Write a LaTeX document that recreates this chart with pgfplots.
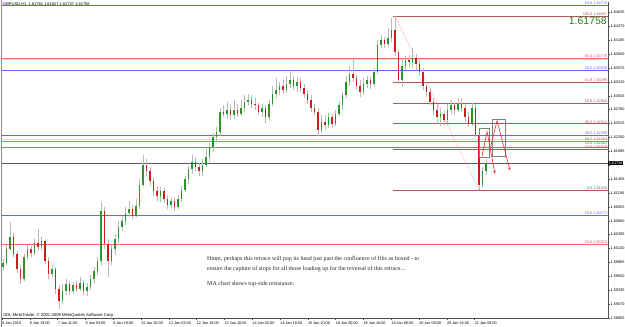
\documentclass[border=0pt]{standalone}
\usepackage{fontspec}
\setmainfont{Liberation Serif}
\newfontfamily\sansf{Liberation Sans}
\usepackage{pgfplots}
\pgfplotsset{compat=1.18}
\usepackage{pgfplotstable}
\usetikzlibrary{arrows.meta}
\definecolor{fibbrown}{RGB}{180,85,85}
\definecolor{fibblue}{RGB}{100,100,240}
\definecolor{fibred}{RGB}{255,100,100}
\definecolor{fibpink}{RGB}{255,205,205}
\definecolor{fibgreen}{RGB}{90,165,90}
\definecolor{upc}{RGB}{40,150,40}
\definecolor{dnc}{RGB}{205,30,30}
\definecolor{wick}{RGB}{185,185,185}
\definecolor{axisc}{RGB}{80,80,80}
\definecolor{bigGreen}{RGB}{30,130,30}
\newcommand\tfs{\sansf\fontsize{3.8}{4}\selectfont}
\pgfplotstableread{
x o h l c
0 1.5977 1.5993 1.5972 1.5985
2 1.5985 1.6019 1.5981 1.6012
4 1.6012 1.6063 1.6008 1.6035
6 1.6035 1.6042 1.5996 1.6002
8 1.6002 1.6008 1.5966 1.5974
10 1.5974 1.5981 1.5945 1.5955
12 1.5955 1.6002 1.5951 1.5996
14 1.5996 1.6019 1.5991 1.6012
16 1.6012 1.6017 1.5996 1.6004
18 1.6004 1.6031 1.6000 1.6023
20 1.6023 1.6050 1.6008 1.6016
22 1.6016 1.6035 1.6010 1.6027
24 1.6027 1.6031 1.5983 1.5989
26 1.5989 1.5996 1.5955 1.5964
28 1.5964 1.5981 1.5958 1.5974
30 1.5974 1.5977 1.5926 1.5936
32 1.5936 1.5943 1.5898 1.5913
34 1.5913 1.5945 1.5907 1.5932
36 1.5932 1.5955 1.5924 1.5945
38 1.5945 1.5951 1.5924 1.5932
40 1.5932 1.5949 1.5926 1.5943
42 1.5943 1.5951 1.5930 1.5936
44 1.5936 1.5958 1.5932 1.5947
46 1.5947 1.5953 1.5924 1.5932
48 1.5932 1.5947 1.5922 1.5939
50 1.5939 1.5962 1.5934 1.5955
52 1.5955 1.5977 1.5947 1.5970
54 1.5970 1.5996 1.5962 1.5989
56 1.5989 1.6101 1.5981 1.6084
58 1.6084 1.6092 1.6012 1.6021
60 1.6021 1.6031 1.5958 1.5989
62 1.5989 1.6019 1.5981 1.6012
64 1.6012 1.6040 1.6000 1.6031
66 1.6031 1.6065 1.6023 1.6054
68 1.6054 1.6076 1.6046 1.6065
70 1.6065 1.6092 1.6057 1.6080
72 1.6080 1.6103 1.6073 1.6088
74 1.6088 1.6097 1.6069 1.6076
76 1.6076 1.6107 1.6073 1.6095
78 1.6095 1.6145 1.6088 1.6135
80 1.6135 1.6192 1.6130 1.6173
82 1.6173 1.6183 1.6152 1.6160
84 1.6160 1.6168 1.6133 1.6141
86 1.6141 1.6149 1.6114 1.6122
88 1.6122 1.6132 1.6103 1.6114
90 1.6114 1.6130 1.6101 1.6122
92 1.6122 1.6128 1.6099 1.6107
94 1.6107 1.6114 1.6088 1.6097
96 1.6097 1.6111 1.6088 1.6103
98 1.6103 1.6109 1.6084 1.6093
100 1.6093 1.6116 1.6088 1.6107
102 1.6107 1.6133 1.6101 1.6125
104 1.6125 1.6152 1.6120 1.6145
106 1.6145 1.6171 1.6137 1.6164
108 1.6164 1.6192 1.6156 1.6179
110 1.6179 1.6187 1.6160 1.6168
112 1.6168 1.6176 1.6151 1.6160
114 1.6160 1.6183 1.6152 1.6173
116 1.6173 1.6202 1.6168 1.6187
118 1.6187 1.6215 1.6179 1.6206
120 1.6206 1.6234 1.6198 1.6225
122 1.6225 1.6244 1.6217 1.6236
124 1.6236 1.6282 1.6228 1.6274
126 1.6274 1.6287 1.6263 1.6270
128 1.6270 1.6293 1.6261 1.6278
130 1.6278 1.6286 1.6259 1.6267
132 1.6267 1.6297 1.6261 1.6278
134 1.6278 1.6289 1.6263 1.6270
136 1.6270 1.6297 1.6265 1.6282
138 1.6282 1.6305 1.6274 1.6293
140 1.6293 1.6308 1.6286 1.6297
142 1.6297 1.6306 1.6282 1.6289
144 1.6289 1.6301 1.6278 1.6286
146 1.6286 1.6291 1.6268 1.6274
148 1.6274 1.6289 1.6263 1.6282
150 1.6282 1.6287 1.6253 1.6263
152 1.6263 1.6297 1.6257 1.6289
154 1.6289 1.6324 1.6284 1.6308
156 1.6308 1.6339 1.6301 1.6316
158 1.6316 1.6331 1.6305 1.6324
160 1.6324 1.6335 1.6308 1.6316
162 1.6316 1.6343 1.6310 1.6327
164 1.6327 1.6354 1.6320 1.6335
166 1.6335 1.6343 1.6316 1.6324
168 1.6324 1.6341 1.6312 1.6331
170 1.6331 1.6339 1.6312 1.6320
172 1.6320 1.6327 1.6301 1.6308
174 1.6308 1.6316 1.6289 1.6297
176 1.6297 1.6305 1.6274 1.6282
178 1.6282 1.6289 1.6267 1.6274
180 1.6274 1.6282 1.6227 1.6240
182 1.6240 1.6267 1.6234 1.6255
184 1.6255 1.6268 1.6240 1.6248
186 1.6248 1.6272 1.6242 1.6263
188 1.6263 1.6270 1.6244 1.6251
190 1.6251 1.6278 1.6246 1.6270
192 1.6270 1.6293 1.6265 1.6286
194 1.6286 1.6312 1.6278 1.6305
196 1.6305 1.6343 1.6301 1.6331
198 1.6331 1.6362 1.6324 1.6346
200 1.6346 1.6379 1.6331 1.6339
202 1.6339 1.6346 1.6316 1.6324
204 1.6324 1.6335 1.6303 1.6312
206 1.6312 1.6339 1.6306 1.6327
208 1.6327 1.6343 1.6320 1.6335
210 1.6335 1.6341 1.6318 1.6327
212 1.6327 1.6358 1.6322 1.6350
214 1.6350 1.6411 1.6346 1.6402
216 1.6402 1.6421 1.6396 1.6411
218 1.6411 1.6417 1.6396 1.6403
220 1.6403 1.6434 1.6398 1.6415
222 1.6415 1.6453 1.6407 1.6430
224 1.6430 1.64567 1.6381 1.6388
226 1.6388 1.6392 1.6327 1.6335
228 1.6335 1.6373 1.6322 1.6362
230 1.6362 1.6381 1.6354 1.6373
232 1.6373 1.6383 1.6360 1.6369
234 1.6369 1.6396 1.6358 1.6377
236 1.6377 1.6384 1.6354 1.6365
238 1.6365 1.6373 1.6343 1.6350
240 1.6350 1.6358 1.6316 1.6324
242 1.6324 1.6331 1.6303 1.6312
244 1.6312 1.6320 1.6286 1.6293
246 1.6293 1.6301 1.6267 1.6278
248 1.6278 1.6289 1.6251 1.6263
250 1.6263 1.6282 1.6246 1.6270
252 1.6270 1.6278 1.6249 1.6259
254 1.6259 1.6289 1.6253 1.6278
256 1.6278 1.6297 1.6270 1.6286
258 1.6286 1.6293 1.6268 1.6278
260 1.6278 1.6301 1.6274 1.6289
262 1.6289 1.6301 1.6274 1.6282
264 1.6282 1.6289 1.6255 1.6263
266 1.6263 1.6274 1.6244 1.6251
268 1.6251 1.6291 1.6246 1.6282
270 1.6282 1.6289 1.6225 1.6230
272 1.6230 1.6236 1.61245 1.6135
274 1.6135 1.6168 1.6130 1.6160
276 1.6160 1.6183 1.6154 1.61758
}\candles
\begin{document}
\begin{tikzpicture}
\path[use as bounding box] (0pt,0pt) rectangle (625pt,327pt);
\draw[black!45, line width=0.6pt] (1.6pt,0pt) -- (1.6pt,327pt);
\begin{axis}[
  at={(2pt,9pt)}, anchor=south west, scale only axis,
  width=606pt, height=316pt,
  xmin=-0.571, xmax=345.71, ymin=1.58805, ymax=1.64833,
  clip=false,
  axis x line*=bottom, axis y line*=right,
  axis line style={-, axisc, line width=0.6pt},
  tick align=outside, major tick length=2pt,
  tick style={axisc, line width=0.4pt},
  xtick={-0.5,15.31,31.2,47.08,62.97,78.86,94.74,110.63,126.51,142.4,158.29,174.17,190.06,205.94,221.83,237.71,253.6,269.49},
  xticklabels={6 Jan 2010,6 Jan 19:00,7 Jan 11:00,8 Jan 03:00,8 Jan 19:00,11 Jan 10:00,12 Jan 02:00,12 Jan 18:00,13 Jan 10:00,14 Jan 02:00,14 Jan 18:00,15 Jan 10:00,18 Jan 00:00,18 Jan 16:00,19 Jan 08:00,20 Jan 00:00,20 Jan 16:00,21 Jan 08:00},
  ytick={1.58805,1.59070,1.59335,1.59600,1.59865,1.60130,1.60395,1.60660,1.60925,1.61190,1.61455,1.61720,1.61985,1.62250,1.62515,1.62780,1.63045,1.63310,1.63575,1.63840,1.64105,1.64370,1.64635},
  yticklabels={1.58805,1.59070,1.59335,1.59600,1.59865,1.60130,1.60395,1.60660,1.60925,1.61190,1.61455,{},1.61985,1.62250,1.62515,1.62780,1.63045,1.63310,1.63575,1.63840,1.64105,1.64370,1.64635},
  xticklabel style={anchor=north west, inner sep=0pt, yshift=-1.2pt, font=\tfs},
  yticklabel style={anchor=west, inner sep=0.5pt, font=\tfs},
]
% full-width fib levels
\addplot[fibblue, line width=0.6pt, forget plot] coordinates {(-0.571,1.64770) (345.71,1.64770)};
\addplot[fibpink, line width=1pt, forget plot] coordinates {(-0.571,1.63728) (345.71,1.63728)};
\addplot[fibred, line width=0.6pt, forget plot] coordinates {(-0.571,1.63760) (345.71,1.63760)};
\addplot[fibblue, line width=0.6pt, forget plot] coordinates {(-0.571,1.63535) (345.71,1.63535)};
\addplot[fibblue, line width=0.6pt, forget plot] coordinates {(-0.571,1.62299) (345.71,1.62299)};
\addplot[fibpink, line width=1pt, forget plot] coordinates {(-0.571,1.62210) (345.71,1.62210)};
\addplot[fibred, line width=0.6pt, forget plot] coordinates {(-0.571,1.62183) (345.71,1.62183)};
\addplot[fibgreen, line width=0.6pt, forget plot] coordinates {(-0.571,1.62062) (345.71,1.62062)};
\addplot[black!65, line width=0.6pt, forget plot] coordinates {(-0.571,1.61758) (345.71,1.61758)};
\addplot[fibblue, line width=0.6pt, forget plot] coordinates {(-0.571,1.60771) (345.71,1.60771)};
\addplot[fibred, line width=0.6pt, forget plot] coordinates {(-0.571,1.60212) (345.71,1.60212)};
% main fib
\addplot[fibbrown, line width=0.6pt, forget plot] coordinates {(223,1.64567) (345.71,1.64567)};
\addplot[fibbrown, line width=0.6pt, forget plot] coordinates {(223,1.63298) (345.71,1.63298)};
\addplot[fibbrown, line width=0.6pt, forget plot] coordinates {(223,1.62906) (345.71,1.62906)};
\addplot[fibbrown, line width=0.6pt, forget plot] coordinates {(223,1.62512) (345.71,1.62512)};
\addplot[fibbrown, line width=0.6pt, forget plot] coordinates {(223,1.62029) (345.71,1.62029)};
\addplot[fibbrown, line width=0.6pt, forget plot] coordinates {(223,1.61245) (345.71,1.61245)};
\addplot[fibred, densely dotted, line width=0.5pt, forget plot] coordinates {(224,1.64567) (272,1.61245)};
% candles
\addplot[draw=none, mark=none, forget plot, error bars/.cd, y dir=plus, y explicit, error mark=none,
  error bar style={draw=wick, line width=0.5pt}]
  table[x=x, y=l, y error expr=\thisrow{h}-\thisrow{l}] {\candles};
\addplot[draw=none, mark=none, forget plot, restrict expr to domain={\thisrow{c}-\thisrow{o}}{0:1},
  error bars/.cd, y dir=plus, y explicit, error mark=none,
  error bar style={draw=upc, line width=1.1pt}]
  table[x=x, y=o, y error expr=\thisrow{c}-\thisrow{o}] {\candles};
\addplot[draw=none, mark=none, forget plot, restrict expr to domain={\thisrow{o}-\thisrow{c}}{0.00001:1},
  error bars/.cd, y dir=plus, y explicit, error mark=none,
  error bar style={draw=dnc, line width=1.1pt}]
  table[x=x, y=c, y error expr=\thisrow{o}-\thisrow{c}] {\candles};
% boxes and arrows
\addplot[black!50, line width=0.6pt, forget plot] coordinates {(272,1.6187) (277.7,1.6187) (277.7,1.6242) (272,1.6242) (272,1.6187)};
\addplot[black!50, line width=0.6pt, forget plot] coordinates {(279.4,1.6189) (286.9,1.6189) (286.9,1.6259) (279.4,1.6259) (279.4,1.6189)};
\addplot[red!85, line width=0.6pt, -{Stealth[length=3pt,width=2.5pt]}, forget plot] coordinates {(273.7,1.6189) (276.6,1.6236) (281.1,1.6156)};
\addplot[red!85, line width=0.6pt, -{Stealth[length=3pt,width=2.5pt]}, forget plot] coordinates {(278.3,1.6202) (282.3,1.6257) (289.7,1.6162)};
% level labels
\begin{scope}[every node/.style={anchor=south east, inner sep=0.3pt, font=\tfs}]
\node[text=fibblue] at (axis cs:345.5,1.64770) {61.8 1.64770};
\node[text=fibbrown] at (axis cs:345.5,1.64567) {100.0 1.64567};
\node[text=fibred!80!black] at (axis cs:345.5,1.63760) {50.0 1.63776};
\node[text=fibblue] at (axis cs:345.5,1.63535) {50.0 1.63535};
\node[text=fibbrown] at (axis cs:345.5,1.63298) {61.8 1.63296};
\node[text=fibbrown] at (axis cs:345.5,1.62906) {50.0 1.62904};
\node[text=fibbrown] at (axis cs:345.5,1.62512) {38.2 1.62512};
\node[text=fibblue] at (axis cs:345.5,1.62299) {38.2 1.62299};
\node[text=fibred!80!black] at (axis cs:345.5,1.62183) {38.2 1.62183};
\node[text=fibgreen!80!black, yshift=2.2pt] at (axis cs:345.5,1.62062) {23.6 1.62062};
\node[text=fibbrown, yshift=-0.3pt] at (axis cs:345.5,1.62029) {23.6 1.62029};
\node[text=fibbrown] at (axis cs:345.5,1.61245) {0.0 1.61245};
\node[text=fibblue] at (axis cs:345.5,1.60771) {23.6 1.60771};
\node[text=fibred!80!black] at (axis cs:345.5,1.60212) {23.6 1.60212};
\end{scope}
\node[anchor=west, fill=black, text=white, inner sep=0.6pt, font=\tfs] at (axis cs:345.71,1.61758) {1.61758};
\end{axis}
\node[anchor=east, inner sep=0pt, text=bigGreen, font=\sansf\fontsize{10.5}{12}\selectfont] at (607pt,306pt) {1.61758};
\node[anchor=base west, inner sep=0pt, font=\sansf\fontsize{4}{5}\selectfont] at (3pt,321pt) {GBPUSD,H1\ \ 1.61781 1.61827 1.61737 1.61758};
\node[anchor=base west, inner sep=0pt, font=\sansf\fontsize{4.2}{5}\selectfont] at (3pt,10.5pt) {ODL MetaTrader, \textcopyright\ 2001-2009 MetaQuotes Software Corp.};
\begin{scope}[every node/.style={anchor=base west, inner sep=0pt, font=\fontsize{6.0}{7}\selectfont, text=black!85}]
\node at (207pt,66.5pt) {Hmm, perhaps this retrace will pop its head just past the confluence of fibs as boxed - to};
\node at (207pt,56.5pt) {ensure the capture of stops for all those loading up for the reversal of this retrace...};
\node at (207pt,41.5pt) {MA chart shows top-side resistance.};
\end{scope}
\end{tikzpicture}
\end{document}
